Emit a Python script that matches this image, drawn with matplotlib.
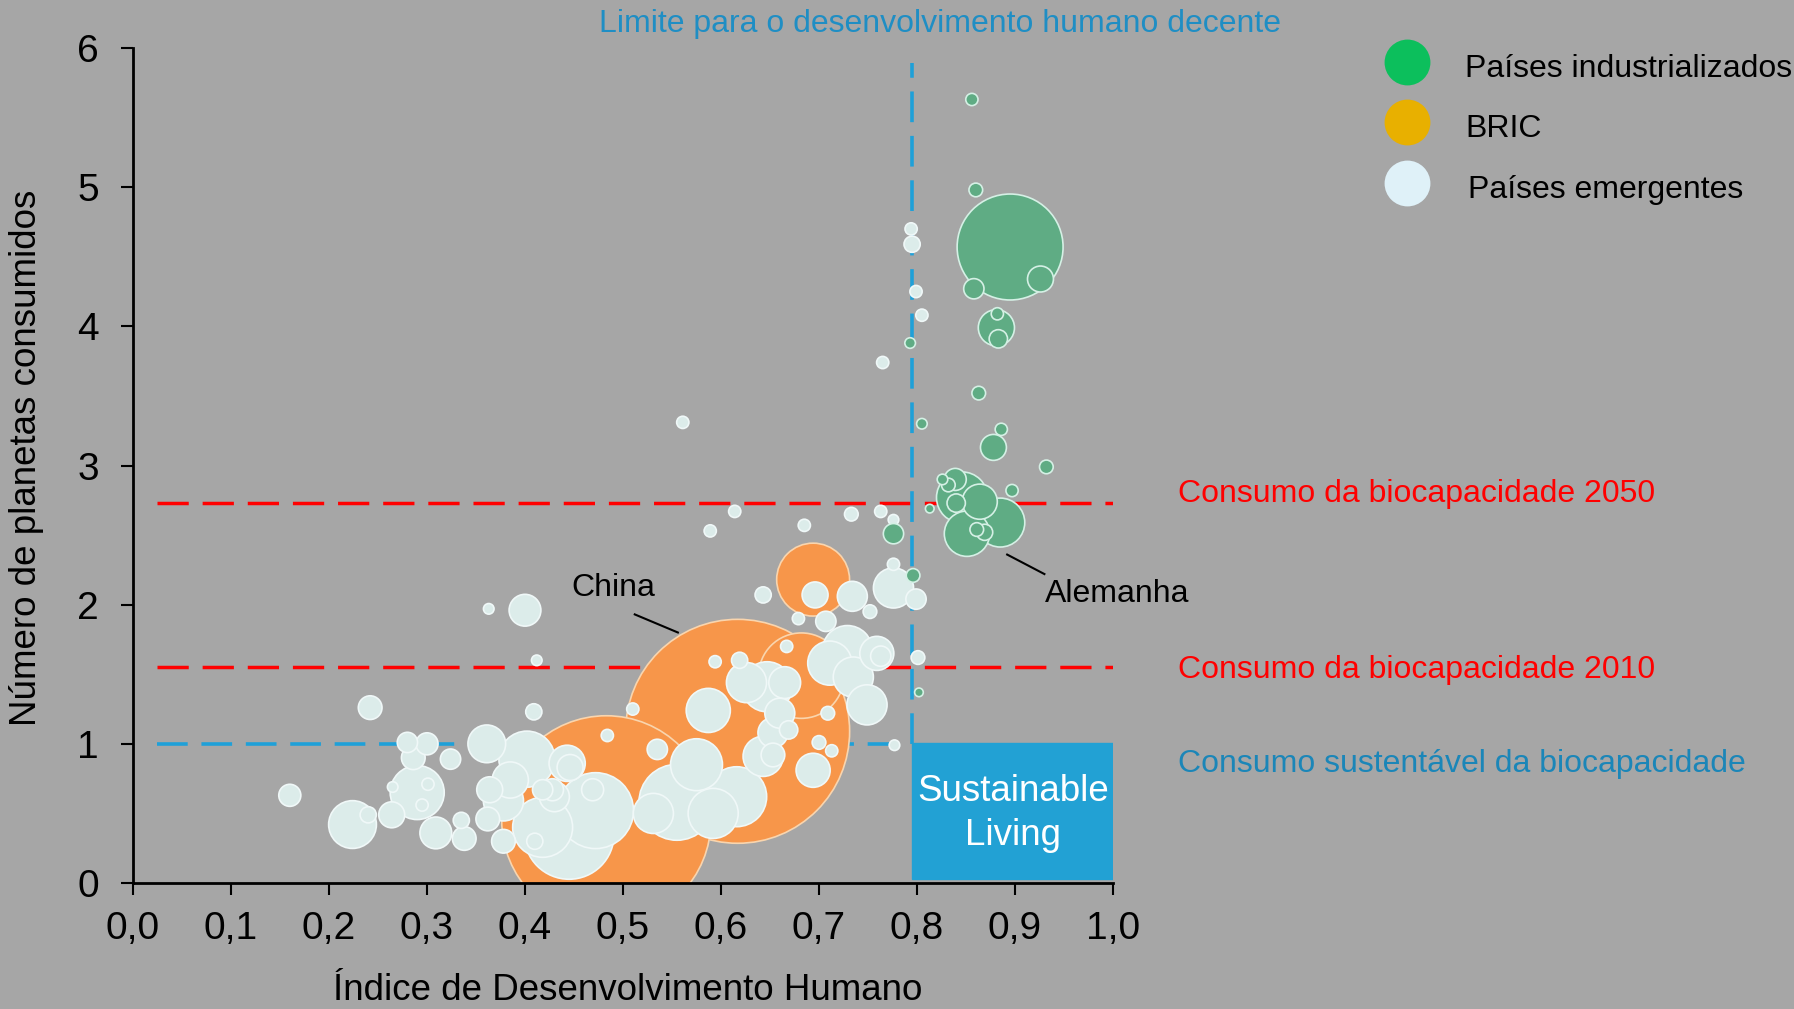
import numpy as np
import matplotlib.pyplot as plt
from matplotlib.patches import Rectangle

plt.rcParams['font.family'] = ['Liberation Sans', 'DejaVu Sans']

#Países industrializados: IDH, planetas consumidos, populacao (milhoes)
ind_hdi = [0.856, 0.860, 0.895, 0.858, 0.926, 0.881, 0.882, 0.883, 0.793, 0.863,
           0.805, 0.886, 0.878, 0.932, 0.897, 0.885, 0.851, 0.846, 0.864, 0.839,
           0.826, 0.840, 0.869, 0.861, 0.813, 0.776, 0.796, 0.802, 0.832]
ind_planets = [5.63, 4.98, 4.57, 4.27, 4.34, 3.99, 4.09, 3.91, 3.88, 3.52,
               3.30, 3.26, 3.13, 2.99, 2.82, 2.59, 2.51, 2.77, 2.74, 2.90,
               2.90, 2.73, 2.52, 2.54, 2.69, 2.51, 2.21, 1.37, 2.86]
ind_pop = [4, 5, 300, 11, 18, 35, 4, 9, 3, 5,
           3, 4, 18, 5, 4, 64, 55, 70, 33, 13,
           3, 9, 7, 5, 2, 11, 5, 2, 5]

#BRIC
bric_names = ['Índia', 'China', 'Brasil', 'Rússia']
bric_hdi = [0.483, 0.617, 0.682, 0.694]
bric_planets = [0.45, 1.09, 1.49, 2.18]
bric_pop = [1170, 1340, 195, 142]

#Paises emergentes
em_hdi = [0.160, 0.242, 0.224, 0.240, 0.264, 0.280, 0.300, 0.286, 0.290, 0.265,
          0.295, 0.301, 0.309, 0.324, 0.335, 0.338, 0.409, 0.361, 0.364, 0.362,
          0.402, 0.446, 0.385, 0.418, 0.363, 0.400, 0.412, 0.445, 0.472, 0.418,
          0.443, 0.378, 0.378, 0.410, 0.430, 0.469, 0.428,
          0.484, 0.510, 0.594, 0.619, 0.667, 0.709, 0.700, 0.713, 0.777, 0.694,
          0.587, 0.749, 0.759, 0.729, 0.711, 0.735, 0.647, 0.626, 0.660, 0.653,
          0.643, 0.555, 0.575, 0.616, 0.592, 0.535, 0.531, 0.763, 0.653, 0.669,
          0.665,
          0.561, 0.614, 0.589, 0.685, 0.733, 0.763, 0.776, 0.696, 0.734, 0.643,
          0.679, 0.707, 0.752, 0.776, 0.776, 0.799, 0.801, 0.794, 0.795, 0.799,
          0.805, 0.765]
em_planets = [0.63, 1.26, 0.42, 0.49, 0.49, 1.01, 1.00, 0.90, 0.65, 0.69,
              0.56, 0.71, 0.36, 0.89, 0.45, 0.32, 1.23, 1.00, 0.67, 0.46,
              0.89, 0.83, 0.74, 0.67, 1.97, 1.96, 1.60, 0.35, 0.52, 0.40,
              0.86, 0.59, 0.30, 0.30, 0.62, 0.67, 0.67,
              1.06, 1.25, 1.59, 1.60, 1.70, 1.22, 1.01, 0.95, 0.99, 0.81,
              1.24, 1.28, 1.65, 1.67, 1.58, 1.48, 1.41, 1.44, 1.22, 1.08,
              0.91, 0.58, 0.85, 0.62, 0.50, 0.96, 0.50, 1.63, 0.92, 1.10,
              1.44,
              3.31, 2.67, 2.53, 2.57, 2.65, 2.67, 2.61, 2.07, 2.06, 2.07,
              1.90, 1.88, 1.95, 2.12, 2.29, 2.04, 1.62, 4.70, 4.59, 4.25,
              4.08, 3.74]
em_pop = [13, 15, 61, 7, 18, 11, 13, 15, 78, 3,
          4, 4, 27, 11, 7, 15, 7, 38, 18, 15,
          84, 18, 35, 11, 3, 27, 3, 216, 154, 96,
          35, 43, 15, 7, 24, 13, 13,
          4, 4, 4, 7, 4, 5, 5, 4, 3, 31,
          52, 43, 31, 67, 52, 43, 67, 43, 24, 24,
          43, 154, 72, 96, 67, 11, 43, 11, 15, 9,
          27,
          4, 4, 4, 4, 5, 4, 3, 18, 24, 7,
          4, 11, 5, 43, 4, 11, 5, 4, 7, 4,
          4, 4]

limite_idh = 0.795
bio_2050 = 2.73
bio_2010 = 1.55
bio_sust = 1.0

xticks = np.arange(0, 1.01, 0.1)
xlabels = ['0,0', '0,1', '0,2', '0,3', '0,4', '0,5', '0,6', '0,7', '0,8', '0,9', '1,0']
yticks = [0, 1, 2, 3, 4, 5, 6]

bg = '#A6A6A6'
W, H = 1794, 1009
fig = plt.figure(figsize=(W/100, H/100), dpi=100, facecolor=bg)
ax = fig.add_axes([133/W, 1-883/H, 980/W, 835/H])
ax.set_facecolor(bg)

def msize(pop):
    #area proporcional a populacao
    return np.array(pop)*19.4

def bubbles(x, y, pop, fc, ec, z):
    order = np.argsort(pop)[::-1]
    x = np.array(x)[order]
    y = np.array(y)[order]
    p = np.array(pop)[order]
    ax.scatter(x, y, s=msize(p), c=fc, edgecolors=ec, linewidths=1.2, zorder=z)

bubbles(bric_hdi, bric_planets, bric_pop, '#F7964A', '#F9D5AE', 3)
bubbles(em_hdi, em_planets, em_pop, '#DCECEA', '#F0F8F8', 4)
bubbles(ind_hdi, ind_planets, ind_pop, '#5FAC84', '#D5F0E5', 5)

#linhas de referencia
dash = (0, (9, 4))
ax.plot([0.024, 1.0], [bio_2050, bio_2050], color='#FF0000', lw=2.5, ls=dash, zorder=2)
ax.plot([0.024, 1.0], [bio_2010, bio_2010], color='#FF0000', lw=2.5, ls=dash, zorder=2)
ax.plot([0.024, limite_idh], [bio_sust, bio_sust], color='#1FA0D8', lw=2.6, ls=(0, (8.5, 3.8)), zorder=2)
ax.plot([limite_idh, limite_idh], [1.0, 5.89], color='#1FA0D8', lw=2.6, ls=(0, (8.5, 3.8)), zorder=2)

ax.add_patch(Rectangle((limite_idh, 0.03), 1.0-limite_idh, 0.975, color='#22A1D4', zorder=6))
ax.text(0.898, 0.50, 'Sustainable\nLiving', color='white', fontsize=26.5, ha='center',
        va='center', linespacing=1.35, zorder=7)

#anotacoes
ax.plot([0.512, 0.556], [1.93, 1.80], color='black', lw=1.5, zorder=8)
ax.text(0.490, 2.12, 'China', fontsize=23, ha='center', va='center', zorder=8)
ax.plot([0.892, 0.930], [2.36, 2.22], color='black', lw=1.5, zorder=8, clip_on=False)
ax.text(1.004, 2.08, 'Alemanha', fontsize=23, ha='center', va='center', zorder=8)

ax.set_xlim(0, 1)
ax.set_ylim(0, 6)
ax.set_xticks(xticks)
ax.set_xticklabels(xlabels)
ax.set_yticks(yticks)
ax.tick_params(axis='both', labelsize=28, length=8.5, width=1.5, direction='out', colors='black')
ax.tick_params(axis='x', pad=12)
ax.tick_params(axis='y', pad=16)
for s in ['top', 'right']:
    ax.spines[s].set_visible(False)
for s in ['left', 'bottom']:
    ax.spines[s].set_linewidth(2)
    ax.spines[s].set_zorder(9)

fig.text(628/W, 1-991/H, 'Índice de Desenvolvimento Humano', fontsize=26.5, ha='center', va='center')
fig.text(27/W, 1-458/H, 'Número de planetas consumidos', fontsize=26.5, ha='center',
         va='center', rotation=90)
fig.text(940/W, 1-24/H, 'Limite para o desenvolvimento humano decente', fontsize=23,
         color='#1F8EC4', ha='center', va='center')
fig.text(1178/W, 1-494/H, 'Consumo da biocapacidade 2050', fontsize=23, color='#FF0000',
         ha='left', va='center')
fig.text(1178/W, 1-670/H, 'Consumo da biocapacidade 2010', fontsize=23, color='#FF0000',
         ha='left', va='center')
fig.text(1178/W, 1-764/H, 'Consumo sustentável da biocapacidade', fontsize=23, color='#1B86B8',
         ha='left', va='center')

#legenda
leg_labels = ['Países industrializados', 'BRIC', 'Países emergentes']
leg_colors = ['#0CBF5C', '#E8B000', '#DFF1F8']
leg_y = [62, 122, 183]
leg_base = [77, 137, 198]
leg_x = [1465, 1465, 1468]
for lab, col, yc, yb, xl in zip(leg_labels, leg_colors, leg_y, leg_base, leg_x):
    fig.add_artist(plt.Line2D([1407/W], [1-yc/H], marker='o', markersize=33, color=col,
                              markeredgewidth=0, transform=fig.transFigure))
    fig.text(xl/W, 1-yb/H, lab, fontsize=23, ha='left', va='baseline')

plt.savefig('out.png', dpi=100, facecolor=bg)
